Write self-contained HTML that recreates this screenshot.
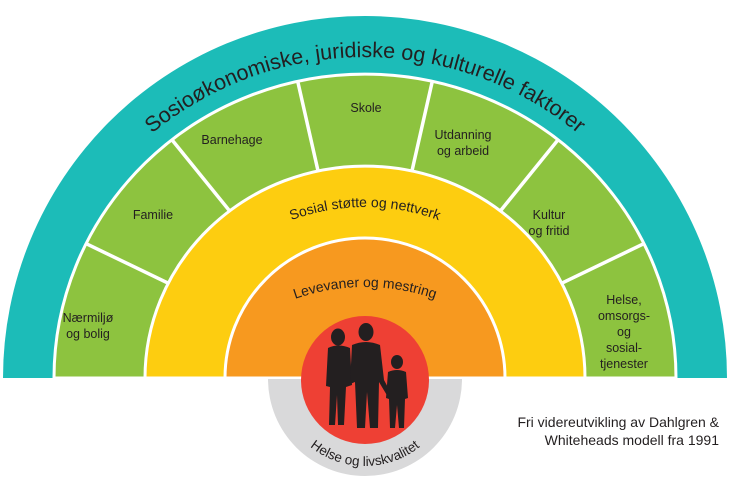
<!DOCTYPE html>
<html><head><meta charset="utf-8"><style>
html,body{margin:0;padding:0;background:#fff;}
svg{display:block;font-family:"Liberation Sans",Arial,sans-serif;}
</style></head><body>
<svg width="730" height="495" viewBox="0 0 730 495" xmlns="http://www.w3.org/2000/svg">
<defs>
<path id="tp" d="M 30 392 A 335 335 0 0 1 700 392"/>
<path id="sp" d="M 154 418 A 211 211 0 0 1 576 418"/>
<path id="lp" d="M 154 498 A 211 211 0 0 1 576 498"/>
<path id="hp" d="M 277 378 A 88 88 0 0 0 453 378"/>
<clipPath id="gc"><path d="M 55 378 A 310 303 0 0 1 675 378 Z"/></clipPath>
</defs>
<path d="M 268 378 A 97 97 0 0 0 462 378 Z" fill="#d9d9da"/>
<path d="M 3 378 A 362 362 0 0 1 727 378 Z" fill="#1cbcb8"/>
<path d="M 54 378 A 311 304 0 0 1 676 378 Z" fill="#8dc33f" stroke="#fff" stroke-width="3"/>
<g stroke="#fff" stroke-width="3.5" clip-path="url(#gc)">
<line x1="365" y1="378" x2="83.9" y2="242.6"/>
<line x1="365" y1="378" x2="170.5" y2="138"/>
<line x1="365" y1="378" x2="296.5" y2="76"/>
<line x1="365" y1="378" x2="433.5" y2="76"/>
<line x1="365" y1="378" x2="559.5" y2="138"/>
<line x1="365" y1="378" x2="646.1" y2="242.6"/>
</g>
<rect x="0" y="378" width="730" height="117" fill="#fff"/>
<path d="M 145 378 A 220 212 0 0 1 585 378 Z" fill="#fdcd10" stroke="#fff" stroke-width="3"/>
<path d="M 225 378 A 140 140 0 0 1 505 378 Z" fill="#f7991f" stroke="#fff" stroke-width="3"/>
<rect x="140" y="378" width="450" height="3" fill="#fff"/>
<path d="M 268 379 A 97 97 0 0 0 462 379 Z" fill="#d9d9da"/>
<circle cx="365" cy="380" r="64" fill="#ee4034"/>
<g fill="#231f20">
<ellipse cx="338" cy="337" rx="7" ry="8.5"/>
<path d="M328 348 Q338 343 350 348 L352 385 L346 387 L344 425 L338 425 L337 395 L335 425 L329 425 L330 387 L326 386 Z"/>
<ellipse cx="366" cy="332" rx="7.5" ry="9"/>
<path d="M352 345 Q366 339 380 345 L384 380 L392 395 L388 397 L379 382 L378 428 L370 428 L367 392 L365 428 L357 428 L355 382 L350 384 Z"/>
<ellipse cx="397" cy="362" rx="6" ry="7"/>
<path d="M388 372 Q397 368 406 372 L408 398 L405 399 L404 428 L399 428 L397 405 L395 428 L390 428 L389 399 L386 398 Z"/>
</g>
<text font-size="21.5" fill="#231f20"><textPath href="#tp" startOffset="50%" text-anchor="middle">Sosioøkonomiske, juridiske og kulturelle faktorer</textPath></text>
<text font-size="14" fill="#231f20"><textPath href="#sp" startOffset="50%" text-anchor="middle">Sosial støtte og nettverk</textPath></text>
<text font-size="14" fill="#231f20"><textPath href="#lp" startOffset="50%" text-anchor="middle">Levevaner og mestring</textPath></text>
<text font-size="13.5" fill="#231f20"><textPath href="#hp" startOffset="50%" text-anchor="middle">Helse og livskvalitet</textPath></text>
<g font-size="12.5" fill="#231f20" text-anchor="middle">
<text x="88" y="322">Nærmiljø</text><text x="88" y="338">og bolig</text>
<text x="153" y="219">Familie</text>
<text x="232" y="144">Barnehage</text>
<text x="366" y="112">Skole</text>
<text x="463" y="139">Utdanning</text><text x="463" y="155">og arbeid</text>
<text x="549" y="219">Kultur</text><text x="549" y="235">og fritid</text>
<text x="624" y="304">Helse,</text><text x="624" y="320">omsorgs-</text><text x="624" y="336">og</text><text x="624" y="352">sosial-</text><text x="624" y="368">tjenester</text>
</g>
<g font-size="14" fill="#231f20" text-anchor="end">
<text x="719" y="427">Fri videreutvikling av Dahlgren &amp;</text>
<text x="719" y="445">Whiteheads modell fra 1991</text>
</g>
</svg>
</body></html>
